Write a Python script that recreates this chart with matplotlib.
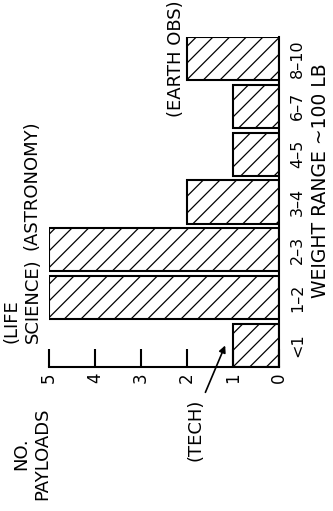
import matplotlib
matplotlib.use("Agg")
import matplotlib.pyplot as plt

# Payload count per weight class (weight in units of ~100 lb)
weight_ranges = ["<1", "1–2", "2–3", "3–4", "4–5", "6–7", "8–10"]
payload_counts = [1, 5, 5, 2, 1, 1, 2]
count_ticks = [0, 1, 2, 3, 4, 5]

plt.rcParams["font.family"] = ["DejaVu Sans"]
plt.rcParams["hatch.linewidth"] = 0.9
plt.rcParams["hatch.color"] = "black"

fig = plt.figure(figsize=(3.33, 5.11), dpi=100)
ax = fig.add_axes([49 / 333, 1 - 367 / 511, 230 / 333, 330 / 511])

pos = list(range(len(weight_ranges)))
ax.barh(pos, payload_counts, height=0.9, color="white", edgecolor="black",
        linewidth=1.5, hatch="//")

ax.set_xlim(5, 0)
ax.set_ylim(-0.45, len(weight_ranges) - 0.55)

for s in ("top", "left"):
    ax.spines[s].set_visible(False)
for s in ("right", "bottom"):
    ax.spines[s].set_linewidth(1.5)

ax.yaxis.tick_right()
ax.set_yticks(pos, weight_ranges)
ax.tick_params(axis="y", length=0, pad=8, labelsize=11.5, labelrotation=90)
for lab in ax.get_yticklabels():
    lab.set_va("center")

ax.set_xticks(count_ticks, [str(t) for t in count_ticks])
ax.tick_params(axis="x", direction="in", length=13, width=1.5, pad=4,
               labelsize=12, labelrotation=90)

txt = dict(rotation=90, fontsize=13, clip_on=False)
ax.text(5.37, -2.26, "NO.\nPAYLOADS", ha="center", va="center",
        multialignment="center", **txt)
ax.text(5.58, 0.06, "(LIFE\nSCIENCE)", ha="center", va="bottom",
        multialignment="left", **txt)
ax.text(5.39, 1.99, "(ASTRONOMY)", ha="center", va="bottom", **txt)
ax.text(2.23, 6.0, "(EARTH OBS)", ha="center", va="center", **txt)
ax.text(1.82, -1.76, "(TECH)", ha="center", va="center", **txt)
ax.text(-0.91, 3.45, "WEIGHT RANGE ~100 LB", ha="center", va="center",
        rotation=90, fontsize=13.5, clip_on=False)

ax.annotate("", xy=(1.17, 0.0), xytext=(1.6, -0.98),
            arrowprops=dict(arrowstyle="-|>", lw=1.2, color="black",
                            mutation_scale=10, shrinkA=0, shrinkB=0),
            annotation_clip=False)

fig.savefig("out.png", dpi=100)
